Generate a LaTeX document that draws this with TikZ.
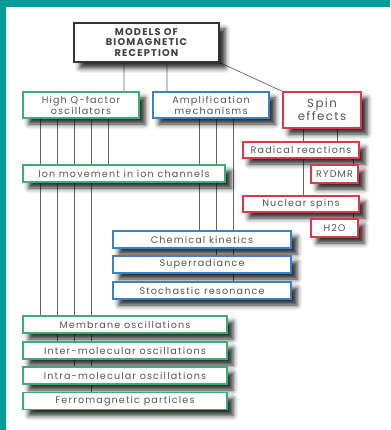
\documentclass[tikz,border=0pt]{standalone}
\usepackage{fontspec}
\setmainfont{Poppins}[LetterSpace=12]
\usepackage{xcolor}
\usetikzlibrary{shadows.blur,backgrounds}

\definecolor{frameteal}{HTML}{009C98}
\definecolor{qgreen}{HTML}{3EAD73}
\definecolor{ampblue}{HTML}{3C82C2}
\definecolor{spinred}{HTML}{D93A4A}
\definecolor{textgray}{HTML}{555555}
\definecolor{linegray}{HTML}{666666}

\begin{document}
\begin{tikzpicture}[x=1pt, y=-1pt,
	box/.style={rectangle, draw=#1, line width=1.1pt, fill=white, inner sep=0, align=center,
		text=textgray, font=\fontsize{9.6}{11}\selectfont,
		blur shadow={shadow xshift=6pt, shadow yshift=-6pt, shadow blur radius=5pt, shadow opacity=85}},
	link/.style={draw=linegray, line width=0.7pt}]
\useasboundingbox (0,0) rectangle (390,430);
% models
\node[box=black!80, minimum width=145pt, minimum height=39pt, font=\bfseries\fontsize{9.8}{10.8}\selectfont, text=black!75] at(146.5,42.5) (title) {MODELS OF\\BIOMAGNETIC\\RECEPTION};
\node[box=qgreen, minimum width=116pt, minimum height=26pt] at(81,105) (hiq) {High Q-factor\\oscillators};
\node[box=ampblue, minimum width=116pt, minimum height=26pt] at(211,105) (amp) {Amplification\\mechanisms};
\node[box=spinred, minimum width=78pt, minimum height=36pt, font=\fontsize{11.8}{13}\selectfont] at(322,110) (spin) {Spin\\effects};
% spin effects
\node[box=spinred, minimum width=116pt, minimum height=16pt] at(301,150) (radical) {Radical reactions};
\node[box=spinred, minimum width=47pt, minimum height=18pt] at(334.5,174) (rydmr) {RYDMR};
\node[box=spinred, minimum width=116pt, minimum height=16pt] at(301,204) (nuclear) {Nuclear spins};
\node[box=spinred, minimum width=47pt, minimum height=18pt] at(334.5,228) (water) {H2O};
% oscillators and amplification
\node[box=qgreen, minimum width=202pt, minimum height=17pt] at(124,173.5) (ion) {Ion movement in ion channels};
\foreach \y/\n/\t in {239.5/chem/Chemical kinetics,264.5/super/Superradiance,290.5/stoch/Stochastic resonance} {
	\node[box=ampblue, minimum width=178pt, minimum height=17pt] at(202,\y) (\n) {\t};
};
\foreach \y/\n/\t in {324.5/membrane/Membrane oscillations,350.5/inter/Inter-molecular oscillations,375.5/intra/Intra-molecular oscillations,401/ferro/Ferromagnetic particles} {
	\node[box=qgreen, minimum width=204pt, minimum height=17pt] at(125,\y) (\n) {\t};
};
\begin{scope}[on background layer]
\fill[frameteal] (0,0) rectangle (390,7);
\fill[frameteal] (0,0) rectangle (6,430);
\path[link]
	(124,0 |- title.south) -- (124,0 |- hiq.north)
	(167,0 |- title.south) -- (167,0 |- amp.north)
	(title.south east) -- (spin.north west);
\foreach \x/\n in {40/membrane,57/inter,74/intra,91/ferro,108/ion} {
	\draw[link] (\x,0 |- hiq.south) -- (\x,0 |- \n.north);
};
\foreach \x/\n in {199/chem,216/super,233/stoch} {
	\draw[link] (\x,0 |- amp.south) -- (\x,0 |- \n.north);
};
\path[link]
	(303,0 |- spin.south) -- (303,0 |- nuclear.north)
	(337,0 |- spin.south) -- (337,0 |- radical.north)
	(353,0 |- radical.south) -- (353,0 |- rydmr.north)
	(353,0 |- nuclear.south) -- (353,0 |- water.north);
\end{scope}
\end{tikzpicture}
\end{document}
